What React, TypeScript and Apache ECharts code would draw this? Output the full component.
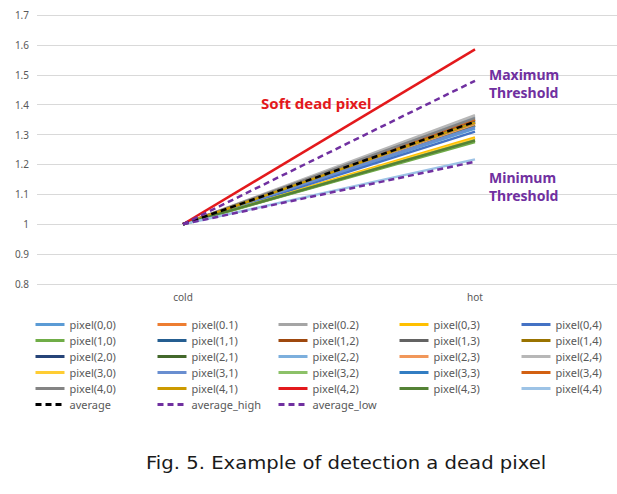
import React, { useEffect, useRef } from "react";
import * as echarts from "echarts";

const categories = ["cold", "hot"];
const yTicks = [0.8, 0.9, 1, 1.1, 1.2, 1.3, 1.4, 1.5, 1.6, 1.7];

const pixelNames = [
  "pixel(0,0)", "pixel(0.1)", "pixel(0.2)", "pixel(0,3)", "pixel(0,4)",
  "pixel(1,0)", "pixel(1,1)", "pixel(1,2)", "pixel(1,3)", "pixel(1,4)",
  "pixel(2,0)", "pixel(2,1)", "pixel(2,2)", "pixel(2,3)", "pixel(2,4)",
  "pixel(3,0)", "pixel(3,1)", "pixel(3,2)", "pixel(3,3)", "pixel(3,4)",
  "pixel(4,0)", "pixel(4,1)", "pixel(4,2)", "pixel(4,3)", "pixel(4,4)",
];
const pixelColors = [
  "#5B9BD5", "#ED7D31", "#A5A5A5", "#FFC000", "#4472C4",
  "#70AD47", "#255E91", "#9E480E", "#636363", "#997300",
  "#264478", "#43682B", "#7CAFDD", "#F1975A", "#B7B7B7",
  "#FFCD33", "#698ED0", "#8CC168", "#327DC2", "#D26012",
  "#848484", "#CC9A00", "#E3191C", "#548235", "#9DC3E6",
];
const coldValues = [
  1, 1, 1, 1, 1,
  1, 1, 1, 1, 1,
  1, 1, 1, 1, 1,
  1, 1, 1, 1, 1,
  1, 1, 1, 1, 1,
];
const hotValues = [
  1.32, 1.335, 1.36, 1.29, 1.31,
  1.275, 1.33, 1.345, 1.35, 1.34,
  1.345, 1.33, 1.355, 1.335, 1.365,
  1.285, 1.325, 1.28, 1.34, 1.35,
  1.355, 1.34, 1.585, 1.28, 1.217,
];
const avgNames = ["average", "average_high", "average_low"];
const avgColors = ["#000000", "#7030A0", "#7030A0"];
const avgCold = [1, 1, 1];
const avgHot = [1.343, 1.48, 1.209];

const legendColumns = [
  ["pixel(0,0)", "pixel(1,0)", "pixel(2,0)", "pixel(3,0)", "pixel(4,0)", "average"],
  ["pixel(0.1)", "pixel(1,1)", "pixel(2,1)", "pixel(3,1)", "pixel(4,1)", "average_high"],
  ["pixel(0.2)", "pixel(1,2)", "pixel(2,2)", "pixel(3,2)", "pixel(4,2)", "average_low"],
  ["pixel(0,3)", "pixel(1,3)", "pixel(2,3)", "pixel(3,3)", "pixel(4,3)"],
  ["pixel(0,4)", "pixel(1,4)", "pixel(2,4)", "pixel(3,4)", "pixel(4,4)"],
];
const legendLefts = [34, 156, 277, 398, 520];

export default function App() {
  const ref = useRef<HTMLDivElement>(null);
  useEffect(() => {
    if (!ref.current) return;
    const chart = echarts.init(ref.current, null, { renderer: "svg" });
    const series: any[] = [];
    pixelNames.forEach((n, i) => {
      series.push({
        name: n,
        type: "line",
        data: [coldValues[i], hotValues[i]],
        symbol: "none",
        color: pixelColors[i],
        lineStyle: { width: 2.5, color: pixelColors[i] },
        z: n === "pixel(4,2)" ? 4 : 2,
      });
    });
    avgNames.forEach((n, i) => {
      series.push({
        name: n,
        type: "line",
        data: [avgCold[i], avgHot[i]],
        symbol: "none",
        color: avgColors[i],
        lineStyle: { width: 2.5, color: avgColors[i], type: [6, 4] },
        z: 5,
      });
    });
    const legends = legendColumns.map((col, i) => ({
      orient: "vertical",
      left: legendLefts[i],
      top: 319,
      padding: 0,
      itemWidth: 29,
      itemHeight: 12,
      itemGap: 5,
      data: col,
      itemStyle: { opacity: 0, borderWidth: 0 },
      lineStyle: { width: 3, opacity: 1 },
      textStyle: { fontSize: 11, color: "#595959", fontFamily: "Noto Sans" },
    }));
    chart.setOption({
      animation: false,
      backgroundColor: "#ffffff",
      grid: { left: 37, right: 0, top: 15, bottom: 210, containLabel: false },
      xAxis: {
        type: "category",
        data: categories,
        boundaryGap: true,
        axisLine: { show: false },
        axisTick: { show: false },
        axisLabel: { color: "#595959", fontSize: 10, fontFamily: "Noto Sans", margin: 8 },
      },
      yAxis: {
        type: "value",
        min: yTicks[0],
        max: yTicks[yTicks.length - 1],
        interval: 0.1,
        axisLine: { show: false },
        axisTick: { show: false },
        axisLabel: {
          color: "#595959",
          fontSize: 10,
          fontFamily: "Noto Sans",
          margin: 8,
          formatter: (v: number) => String(Math.round(v * 10) / 10),
        },
        splitLine: { lineStyle: { color: "#D9D9D9", width: 1 } },
      },
      legend: legends,
      series,
      graphic: [
        {
          type: "text",
          left: 261,
          top: 95,
          style: { text: "Soft dead pixel", fill: "#E3191C", font: "bold 15px 'Noto Sans'" },
          z: 10,
        },
        {
          type: "text",
          left: 489,
          top: 65,
          style: { text: "Maximum\nThreshold", fill: "#7030A0", font: "bold 14px 'Noto Sans'", lineHeight: 18 },
          z: 10,
        },
        {
          type: "text",
          left: 489,
          top: 168,
          style: { text: "Minimum\nThreshold", fill: "#7030A0", font: "bold 14px 'Noto Sans'", lineHeight: 18 },
          z: 10,
        },
        {
          type: "text",
          x: 146,
          y: 454,
          scaleX: 1.09,
          style: { text: "Fig. 5. Example of detection a dead pixel", fill: "#1a1a1a", font: "18px 'DejaVu Sans'" },
          z: 10,
        },
      ],
    });
    return () => chart.dispose();
  }, []);
  return (
    <div
      ref={ref}
      style={{ position: "fixed", left: 0, top: 0, width: 621, height: 494, background: "#fff" }}
    />
  );
}
